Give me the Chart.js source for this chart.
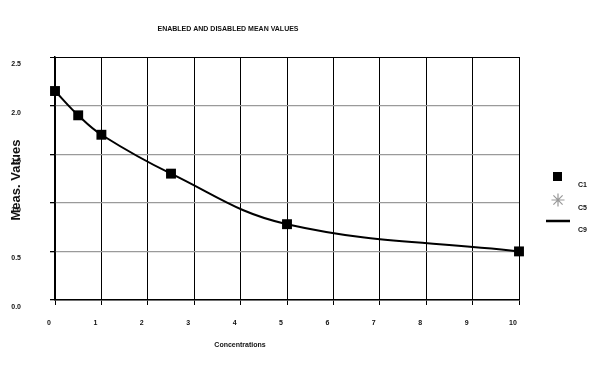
<!DOCTYPE html>
<html>
<head>
<meta charset="utf-8">
<script src="https://cdn.jsdelivr.net/npm/chart.js@4"></script>
<style>
  html, body { margin: 0; padding: 0; background: #fff; }
  #wrap { width: 600px; height: 367px; }
</style>
</head>
<body>
<div id="wrap"><canvas id="meanChart" width="600" height="367"></canvas></div>
<script>
// --- chart data ---
const concentrations = [0, 0.5, 1, 2.5, 5, 10];
const c1Values = [2.15, 1.90, 1.70, 1.30, 0.78, 0.50];
const c5Values = [2.15, 1.90, 1.70, 1.30, 0.78, 0.50];
const c9Values = [2.15, 1.90, 1.70, 1.30, 0.78, 0.50];
const seriesNames = ['C1', 'C5', 'C9'];
const xTickLabels = ['0', '1', '2', '3', '4', '5', '6', '7', '8', '9', '10'];
const yTickLabels = ['0.0', '0.5', '1.0', '1.5', '2.0', '2.5'];

const chartTitle = 'ENABLED AND DISABLED MEAN VALUES';
const xTitle = 'Concentrations';
const yTitle = 'Meas. Values';

const FONT = "'Liberation Sans', Arial, sans-serif";

function toPoints(values) {
    return concentrations.map((c, i) => ({ x: c, y: values[i] }));
}

// texts + legend drawn by hand so they sit where the original has them
const extrasPlugin = {
    id: 'extras',
    afterDraw(chart) {
        const ctx = chart.ctx;
        ctx.save();
        ctx.fillStyle = '#111';

        ctx.font = 'bold 7px ' + FONT;
        ctx.textAlign = 'center';
        ctx.textBaseline = 'middle';
        ctx.fillText(chartTitle, 228, 29);
        ctx.fillText(xTitle, 240, 345);

        ctx.save();
        ctx.translate(16, 180);
        ctx.rotate(-Math.PI / 2);
        ctx.font = 'bold 13px ' + FONT;
        ctx.fillText(yTitle, 0, 0);
        ctx.restore();

        // legend
        const ds = chart.data.datasets;
        // C1 square
        ctx.fillStyle = ds[0].pointBackgroundColor;
        ctx.fillRect(553, 172, 9, 9);
        // C5 star
        ctx.strokeStyle = '#999';
        ctx.lineWidth = 1.2;
        ctx.beginPath();
        const r = 6.5, sx = 558, sy = 200;
        ctx.moveTo(sx - r, sy); ctx.lineTo(sx + r, sy);
        ctx.moveTo(sx, sy - r); ctx.lineTo(sx, sy + r);
        const d = r * Math.SQRT1_2;
        ctx.moveTo(sx - d, sy - d); ctx.lineTo(sx + d, sy + d);
        ctx.moveTo(sx - d, sy + d); ctx.lineTo(sx + d, sy - d);
        ctx.stroke();
        // C9 line
        ctx.strokeStyle = ds[2].borderColor;
        ctx.lineWidth = 2.5;
        ctx.beginPath();
        ctx.moveTo(546, 221);
        ctx.lineTo(570, 221);
        ctx.stroke();

        ctx.fillStyle = '#111';
        ctx.font = 'bold 7px ' + FONT;
        ctx.textAlign = 'left';
        ctx.fillText(seriesNames[0], 578, 185);
        ctx.fillText(seriesNames[1], 578, 208);
        ctx.fillText(seriesNames[2], 578, 230);
        ctx.restore();
    }
};

const ctx = document.getElementById('meanChart').getContext('2d');
new Chart(ctx, {
    type: 'scatter',
    data: {
        datasets: [{
            label: seriesNames[0],
            data: toPoints(c1Values),
            pointStyle: 'rect',
            pointRadius: 7,
            pointBackgroundColor: '#000',
            pointBorderColor: '#000',
            pointBorderWidth: 0,
            showLine: false,
            clip: false,
            order: 0
        }, {
            label: seriesNames[1],
            data: toPoints(c5Values),
            pointStyle: 'star',
            pointRadius: 3,
            pointBorderColor: '#888',
            pointBackgroundColor: '#888',
            pointBorderWidth: 1,
            showLine: false,
            clip: false,
            order: 1
        }, {
            label: seriesNames[2],
            data: toPoints(c9Values),
            showLine: true,
            borderColor: '#000',
            borderWidth: 2,
            pointRadius: 0,
            tension: 0.4,
            clip: false,
            order: 2
        }]
    },
    options: {
        responsive: false,
        animation: false,
        devicePixelRatio: 1,
        layout: { padding: { left: 0, top: 57, right: 81, bottom: 0 } },
        plugins: {
            legend: { display: false },
            tooltip: { enabled: false },
            title: { display: false }
        },
        scales: {
            x: {
                type: 'linear',
                min: 0,
                max: 10,
                afterFit(scale) { scale.height = 67; },
                border: { display: true, color: '#000', width: 1.5 },
                grid: {
                    color: '#000',
                    lineWidth: 1,
                    tickColor: '#000',
                    tickLength: 5
                },
                ticks: {
                    stepSize: 1,
                    autoSkip: false,
                    maxRotation: 0,
                    padding: 14,
                    labelOffset: -6,
                    color: '#111',
                    font: { family: FONT, size: 7, weight: 'bold' },
                    callback: (v) => xTickLabels[Math.round(v)]
                }
            },
            y: {
                min: 0,
                max: 2.5,
                afterFit(scale) { scale.width = 55; },
                border: { display: true, color: '#000', width: 1.5 },
                grid: {
                    color: (c) => (c.tick && c.tick.value === 2.5 ? '#000' : '#9a9a9a'),
                    lineWidth: (c) => (c.tick && c.tick.value === 2.5 ? 1 : 1.3),
                    tickColor: '#000',
                    tickLength: 5
                },
                ticks: {
                    stepSize: 0.5,
                    padding: 29,
                    labelOffset: 7,
                    color: '#111',
                    font: { family: FONT, size: 7, weight: 'bold' },
                    callback: (v) => yTickLabels[Math.round(v * 2)]
                }
            }
        }
    },
    plugins: [extrasPlugin]
});
</script>
</body>
</html>
